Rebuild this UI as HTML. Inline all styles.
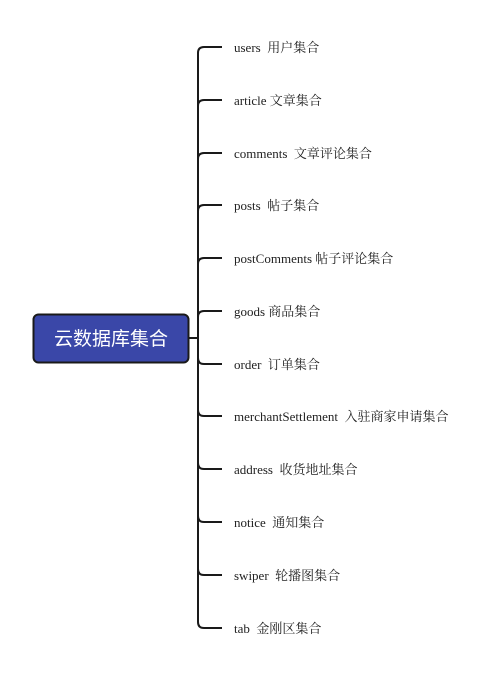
<!DOCTYPE html>
<html><head><meta charset="utf-8"><style>
html,body{margin:0;padding:0;background:#fff;width:499px;height:675px;overflow:hidden}
text.l{font-family:"Liberation Serif","Noto Serif CJK SC","Noto Sans CJK SC",serif;font-size:13px;fill:#222;white-space:pre}
</style></head><body>
<svg width="499" height="675" xmlns="http://www.w3.org/2000/svg">
<g fill="none" stroke="#1a1a1a" stroke-width="2">
<path d="M222 47 H204 Q198 47 198 53 V622 Q198 628 204 628 H222"/>
<path d="M189 338 H198"/>
<path d="M222 100 H204 Q198 100 198 106"/>
<path d="M222 153 H204 Q198 153 198 159"/>
<path d="M222 205 H204 Q198 205 198 211"/>
<path d="M222 258 H204 Q198 258 198 264"/>
<path d="M222 311 H204 Q198 311 198 317"/>
<path d="M222 364 H204 Q198 364 198 358"/>
<path d="M222 416 H204 Q198 416 198 410"/>
<path d="M222 469 H204 Q198 469 198 463"/>
<path d="M222 522 H204 Q198 522 198 516"/>
<path d="M222 575 H204 Q198 575 198 569"/>
</g>
<rect x="33.5" y="314.5" width="155" height="48" rx="5" fill="#3a47a8" stroke="#1a1a1a" stroke-width="2"/>
<text x="111" y="345" text-anchor="middle" font-family="'Liberation Sans','Noto Sans CJK SC',sans-serif" font-size="19" fill="#fff">云数据库集合</text>
<text class="l" x="234" y="52">users&#160; 用户集合</text>
<text class="l" x="234" y="105">article 文章集合</text>
<text class="l" x="234" y="158">comments&#160; 文章评论集合</text>
<text class="l" x="234" y="210">posts&#160; 帖子集合</text>
<text class="l" x="234" y="263">postComments 帖子评论集合</text>
<text class="l" x="234" y="316">goods 商品集合</text>
<text class="l" x="234" y="369">order&#160; 订单集合</text>
<text class="l" x="234" y="421">merchantSettlement&#160; 入驻商家申请集合</text>
<text class="l" x="234" y="474">address&#160; 收货地址集合</text>
<text class="l" x="234" y="527">notice&#160; 通知集合</text>
<text class="l" x="234" y="580">swiper&#160; 轮播图集合</text>
<text class="l" x="234" y="633">tab&#160; 金刚区集合</text>
</svg>
</body></html>
